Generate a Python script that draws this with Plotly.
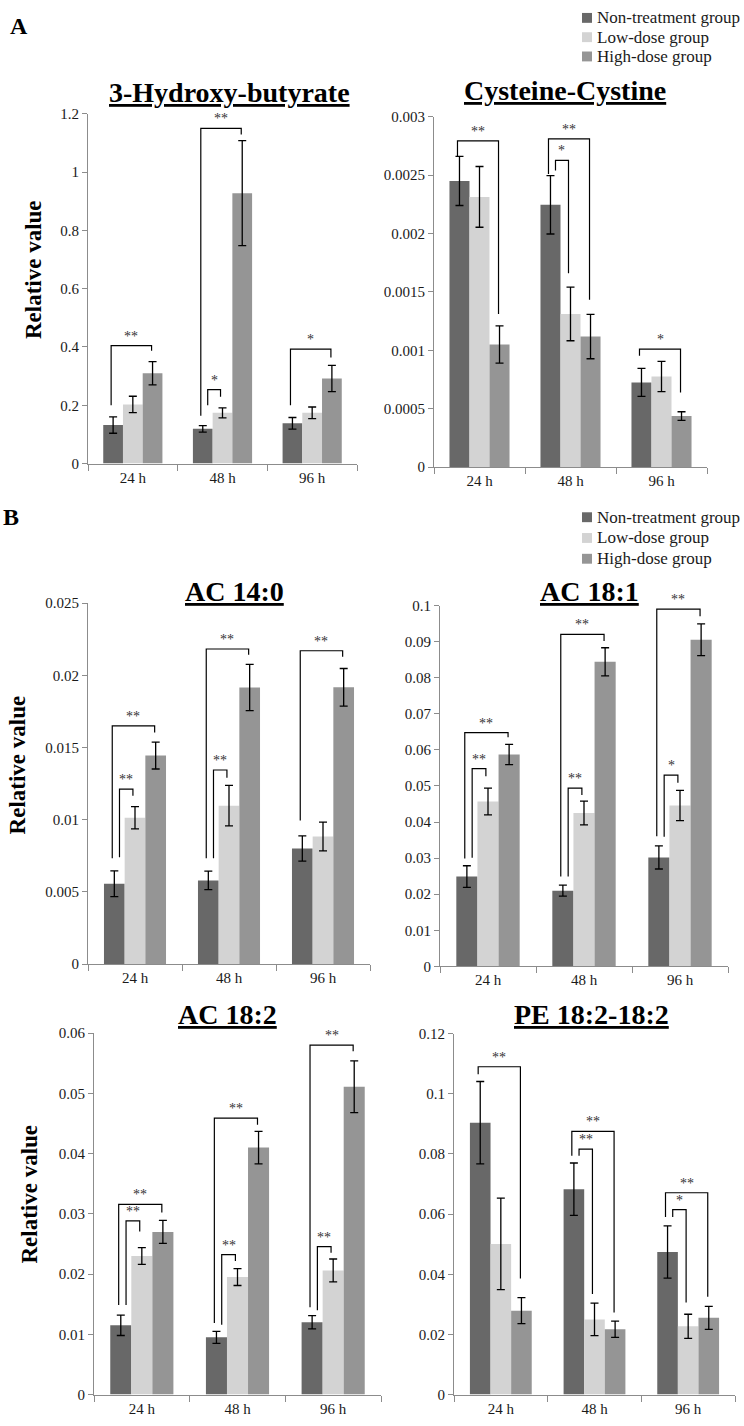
import plotly.graph_objects as go

W, H = 744, 1426
FONT = "Liberation Serif"

# ---------------- data ----------------
groups = ["24 h", "48 h", "96 h"]
series_names = ["Non-treatment group", "Low-dose group", "High-dose group"]
series_colors = ["#686868", "#d3d3d3", "#959595"]

# 3-Hydroxy-butyrate
hb_non = [0.132, 0.119, 0.138]
hb_non_err = [0.028, 0.011, 0.020]
hb_low = [0.203, 0.174, 0.174]
hb_low_err = [0.028, 0.017, 0.020]
hb_high = [0.310, 0.928, 0.292]
hb_high_err = [0.040, 0.180, 0.045]
hb_ticks = [0, 0.2, 0.4, 0.6, 0.8, 1.0, 1.2]
hb_ticktext = ["0", "0.2", "0.4", "0.6", "0.8", "1", "1.2"]
# (group, compared bar, bracket top, left leg bottom, right leg bottom, label)
hb_sig = [(0, 2, 0.405, 0.200, 0.387, "**"),
          (1, 2, 1.150, 0.164, 1.129, "**"),
          (1, 1, 0.2535, 0.200, 0.229, "*"),
          (2, 2, 0.393, 0.200, 0.364, "*")]

# Cysteine-Cystine
cys_non = [0.00245, 0.002246, 0.000725]
cys_non_err = [0.00021, 0.00025, 0.00012]
cys_low = [0.002314, 0.001312, 0.000776]
cys_low_err = [0.00026, 0.00023, 0.00013]
cys_high = [0.00105, 0.001118, 0.000437]
cys_high_err = [0.00016, 0.00019, 0.000037]
cys_ticks = [0, 0.0005, 0.001, 0.0015, 0.002, 0.0025, 0.003]
cys_ticktext = ["0", "0.0005", "0.001", "0.0015", "0.002", "0.0025", "0.003"]
cys_sig = [(0, 2, 0.002794, 0.00266, 0.001312, "**"),
           (1, 2, 0.00281, 0.00251, 0.001434, "**"),
           (1, 1, 0.002627, 0.00254, 0.00166, "*"),
           (2, 2, 0.00101, 0.000953, 0.000638, "*")]

# AC 14:0
ac140_non = [0.00557, 0.00580, 0.00801]
ac140_non_err = [0.00089, 0.00064, 0.00088]
ac140_low = [0.01014, 0.01098, 0.00884]
ac140_low_err = [0.00077, 0.00140, 0.00100]
ac140_high = [0.01445, 0.01916, 0.01918]
ac140_high_err = [0.00093, 0.00160, 0.00130]
ac140_ticks = [0, 0.005, 0.01, 0.015, 0.02, 0.025]
ac140_ticktext = ["0", "0.005", "0.01", "0.015", "0.02", "0.025"]
ac140_sig = [(0, 2, 0.0165, 0.00733, 0.01605, "**"),
             (0, 1, 0.01212, 0.0074, 0.01166, "**"),
             (1, 2, 0.02183, 0.00733, 0.02144, "**"),
             (1, 1, 0.01345, 0.00733, 0.01292, "**"),
             (2, 2, 0.02171, 0.00995, 0.0213, "**")]

# AC 18:1
ac181_non = [0.0249, 0.0210, 0.0302]
ac181_non_err = [0.0030, 0.0015, 0.0032]
ac181_low = [0.0457, 0.0425, 0.0446]
ac181_low_err = [0.0037, 0.0033, 0.0042]
ac181_high = [0.0587, 0.0844, 0.0905]
ac181_high_err = [0.0028, 0.0039, 0.0044]
ac181_ticks = [0, 0.01, 0.02, 0.03, 0.04, 0.05, 0.06, 0.07, 0.08, 0.09, 0.1]
ac181_ticktext = ["0", "0.01", "0.02", "0.03", "0.04", "0.05", "0.06",
                  "0.07", "0.08", "0.09", "0.1"]
ac181_sig = [(0, 2, 0.0648, 0.0299, 0.0635, "**"),
             (0, 1, 0.0548, 0.0301, 0.0527, "**"),
             (1, 2, 0.0920, 0.0249, 0.0902, "**"),
             (1, 1, 0.0494, 0.0249, 0.0475, "**"),
             (2, 2, 0.0990, 0.0361, 0.0970, "**"),
             (2, 1, 0.0530, 0.0359, 0.0509, "*")]

# AC 18:2
ac182_non = [0.0115, 0.0095, 0.0120]
ac182_non_err = [0.0017, 0.0010, 0.0011]
ac182_low = [0.0230, 0.0195, 0.0206]
ac182_low_err = [0.0014, 0.0014, 0.0019]
ac182_high = [0.0270, 0.0410, 0.0511]
ac182_high_err = [0.0019, 0.0027, 0.0043]
ac182_ticks = [0, 0.01, 0.02, 0.03, 0.04, 0.05, 0.06]
ac182_ticktext = ["0", "0.01", "0.02", "0.03", "0.04", "0.05", "0.06"]
ac182_sig = [(0, 2, 0.03156, 0.01487, 0.0302, "**"),
             (0, 1, 0.02882, 0.01487, 0.02708, "**"),
             (1, 2, 0.04589, 0.01187, 0.0448, "**"),
             (1, 1, 0.02324, 0.01159, 0.02216, "**"),
             (2, 2, 0.05799, 0.01449, 0.0570, "**"),
             (2, 1, 0.02456, 0.0140, 0.02352, "**")]

# PE 18:2-18:2
pe_non = [0.0904, 0.0683, 0.0474]
pe_non_err = [0.0137, 0.0087, 0.0087]
pe_low = [0.0501, 0.0250, 0.0227]
pe_low_err = [0.0152, 0.0054, 0.0040]
pe_high = [0.0279, 0.0217, 0.0255]
pe_high_err = [0.0043, 0.0027, 0.0038]
pe_ticks = [0, 0.02, 0.04, 0.06, 0.08, 0.1, 0.12]
pe_ticktext = ["0", "0.02", "0.04", "0.06", "0.08", "0.1", "0.12"]
pe_sig = [(0, 2, 0.1090, 0.1065, 0.0386, "**"),
          (1, 2, 0.0875, 0.0794, 0.0273, "**"),
          (1, 1, 0.0816, 0.0794, 0.0334, "**"),
          (2, 2, 0.0671, 0.0590, 0.0325, "**"),
          (2, 1, 0.0615, 0.0590, 0.0306, "*")]

# ---------------- layout geometry (pixels) ----------------
BARGAP = 0.34
panels = [
    dict(title="3-Hydroxy-butyrate", vals=[hb_non, hb_low, hb_high],
         errs=[hb_non_err, hb_low_err, hb_high_err], ticks=hb_ticks, ticktext=hb_ticktext,
         sig=hb_sig, box=(88, 357, 107.1, 460.7), tpos=(229, 85)),
    dict(title="Cysteine-Cystine", vals=[cys_non, cys_low, cys_high],
         errs=[cys_non_err, cys_low_err, cys_high_err], ticks=cys_ticks, ticktext=cys_ticktext,
         sig=cys_sig, box=(434, 707, 110, 464.3), tpos=(565, 83)),
    dict(title="AC 14:0", vals=[ac140_non, ac140_low, ac140_high],
         errs=[ac140_non_err, ac140_low_err, ac140_high_err], ticks=ac140_ticks, ticktext=ac140_ticktext,
         sig=ac140_sig, box=(88, 370, 602, 967), tpos=(234, 590)),
    dict(title="AC 18:1", vals=[ac181_non, ac181_low, ac181_high],
         errs=[ac181_non_err, ac181_low_err, ac181_high_err], ticks=ac181_ticks, ticktext=ac181_ticktext,
         sig=ac181_sig, box=(440, 728, 604.3, 969.3), tpos=(589, 590)),
    dict(title="AC 18:2", vals=[ac182_non, ac182_low, ac182_high],
         errs=[ac182_non_err, ac182_low_err, ac182_high_err], ticks=ac182_ticks, ticktext=ac182_ticktext,
         sig=ac182_sig, box=(94, 381, 1036.7, 1402.3), tpos=(227, 1018)),
    dict(title="PE 18:2-18:2", vals=[pe_non, pe_low, pe_high],
         errs=[pe_non_err, pe_low_err, pe_high_err], ticks=pe_ticks, ticktext=pe_ticktext,
         sig=pe_sig, box=(454, 735, 1037.3, 1402.3), tpos=(591, 1018)),
]


def px(x):
    return x / W


def py(y):
    return 1 - y / H


fig = go.Figure()
shapes = []
annotations = []
AXIS_COLOR = "#8c8c8c"
TEXT_COLOR = "#1a1a1a"
w = (1 - BARGAP) / 3


def center(g, k):
    return g + (k - 1) * w


layout_axes = {}
for i, p in enumerate(panels, start=1):
    xid = "x" if i == 1 else f"x{i}"
    yid = "y" if i == 1 else f"y{i}"
    xname = "xaxis" if i == 1 else f"xaxis{i}"
    yname = "yaxis" if i == 1 else f"yaxis{i}"
    for k in range(3):
        fig.add_trace(go.Bar(
            x=[0, 1, 2], y=p["vals"][k], name=series_names[k],
            marker=dict(color=series_colors[k], line=dict(width=0)),
            error_y=dict(type="data", array=p["errs"][k], color="black",
                         thickness=1.3, width=4),
            xaxis=xid, yaxis=yid, showlegend=False))
    x0, x1, y0, y1 = p["box"]
    layout_axes[xname] = dict(
        domain=[px(x0), px(x1)], anchor=yid, range=[-0.5, 2.5],
        tickmode="array", tickvals=[0, 1, 2], ticktext=groups, ticks="",
        showline=True, linecolor=AXIS_COLOR, linewidth=1,
        minor=dict(tickmode="array", tickvals=[-0.5, 0.5, 1.5, 2.5], ticks="outside",
                   ticklen=6, tickcolor=AXIS_COLOR, tickwidth=1),
        tickfont=dict(family=FONT, size=15, color=TEXT_COLOR),
        showgrid=False, zeroline=False, fixedrange=True)
    layout_axes[yname] = dict(
        domain=[py(y1), py(y0)], anchor=xid, range=[0, p["ticks"][-1]],
        tickmode="array", tickvals=p["ticks"], ticktext=p["ticktext"],
        ticks="outside", ticklen=5, tickcolor=AXIS_COLOR, tickwidth=1,
        showline=True, linecolor=AXIS_COLOR, linewidth=1,
        tickfont=dict(family=FONT, size=15, color=TEXT_COLOR),
        showgrid=False, zeroline=False, fixedrange=True)
    # significance brackets
    for (g, kb, top, lb, rb, lab) in p["sig"]:
        if kb == 2:
            xl = center(g, 0) - 0.1 * w
            xr = center(g, 2) - 0.05 * w
        else:
            xl = center(g, 0) + 0.25 * w
            xr = center(g, 1) - 0.1 * w
        shapes.append(dict(type="path", xref=xid, yref=yid,
                           path=f"M{xl},{lb} L{xl},{top} L{xr},{top} L{xr},{rb}",
                           line=dict(color="black", width=1.2)))
        annotations.append(dict(x=(xl + xr) / 2, y=top, xref=xid, yref=yid,
                                text=lab, showarrow=False, yanchor="bottom",
                                yshift=0,
                                font=dict(family=FONT, size=14, color="#333333")))
    # title
    tx, ty = p["tpos"]
    annotations.append(dict(x=px(tx), y=py(ty), xref="paper", yref="paper",
                            text=f"<b><u>{p['title']}</u></b>", showarrow=False,
                            xanchor="center", yanchor="middle",
                            font=dict(family=FONT, size=28, color="black")))

# y-axis titles
for (xx, yy) in [(33, 265), (17, 766), (30, 1200)]:
    annotations.append(dict(x=px(xx), y=py(yy), xref="paper", yref="paper",
                            text="<b>Relative value</b>", textangle=-90, showarrow=False,
                            xanchor="center", yanchor="middle",
                            font=dict(family=FONT, size=23, color="black")))

# panel letters
for (xx, yy, t) in [(19, 18, "A"), (11, 515, "B")]:
    annotations.append(dict(x=px(xx), y=py(yy), xref="paper", yref="paper",
                            text=f"<b>{t}</b>", showarrow=False,
                            xanchor="center", yanchor="middle",
                            font=dict(family=FONT, size=24, color="black")))

# legends (A and B)
for rows in [(10, 29.5, 49), (515, 536, 557)]:
    for k, ry in enumerate(rows):
        shapes.append(dict(type="rect", xref="paper", yref="paper",
                           x0=px(582), x1=px(592), y0=py(ry + 5), y1=py(ry - 5),
                           fillcolor=series_colors[k], line=dict(width=0)))
        annotations.append(dict(x=px(595), y=py(ry), xref="paper", yref="paper",
                                text=series_names[k], showarrow=False,
                                xanchor="left", yanchor="middle",
                                font=dict(family=FONT, size=17, color=TEXT_COLOR)))

fig.update_layout(
    width=W, height=H, margin=dict(l=0, r=0, t=0, b=0),
    paper_bgcolor="white", plot_bgcolor="white",
    barmode="group", bargap=BARGAP, bargroupgap=0,
    shapes=shapes, annotations=annotations, showlegend=False,
    **layout_axes)

fig.write_html("out.html",
               config={"displayModeBar": False, "staticPlot": True},
               post_script="document.body.style.margin='0';"
                           "document.body.style.overflow='hidden';")
